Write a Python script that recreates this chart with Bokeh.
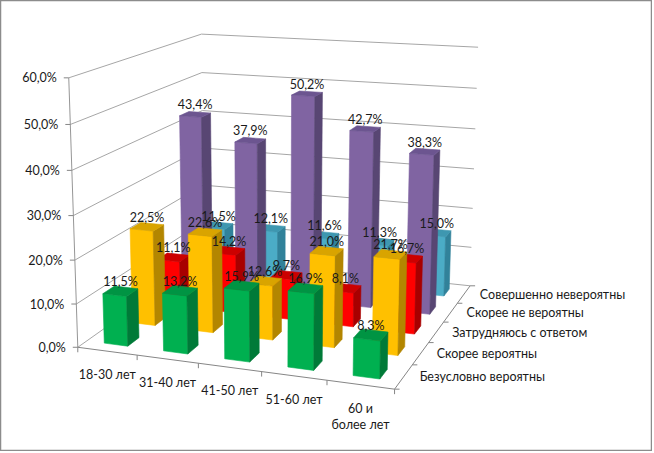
import numpy as np
from bokeh.plotting import figure
from bokeh.models import Range1d
from bokeh.core.properties import value
from bokeh.embed import file_html
from bokeh.resources import INLINE

# ---------------- data ----------------
categories = ["18-30 лет", "31-40 лет", "41-50 лет", "51-60 лет", "60 и\nболее лет"]
# series from front row to back row
series_names = ["Безусловно вероятны", "Скорее вероятны", "Затрудняюсь с ответом",
                "Скорее не вероятны", "Совершенно невероятны"]
bezuslovno_veroyatny = [11.5, 13.2, 15.9, 16.9, 8.3]
skoree_veroyatny = [22.5, 22.6, 12.6, 21.0, 21.7]
zatrudnyayus = [11.1, 14.2, 9.7, 8.1, 16.7]
skoree_ne_veroyatny = [43.4, 37.9, 50.2, 42.7, 38.3]
sovershenno_neveroyatny = [11.5, 12.1, 11.6, 11.3, 15.0]
y_ticks = [0, 10, 20, 30, 40, 50, 60]
y_tick_labels = ["0,0%", "10,0%", "20,0%", "30,0%", "40,0%", "50,0%", "60,0%"]

series_values = [bezuslovno_veroyatny, skoree_veroyatny, zatrudnyayus,
                 skoree_ne_veroyatny, sovershenno_neveroyatny]

# (front, side, top) colours per series
series_colors = [
    ("#00B050", "#007A38", "#009443"),
    ("#FFC000", "#B38600", "#D9A400"),
    ("#FF0000", "#A80000", "#CC0000"),
    ("#8064A2", "#584673", "#6C5590"),
    ("#4BACC6", "#31829A", "#3E97B0"),
]

# ---------------- projection (perspective camera fitted to frame corners) ----------------
CALIB = [
    (0, 0, 0, 78, 346), (0, 10, 0, 76, 303), (0, 20, 0, 74, 260), (0, 30, 0, 72, 215),
    (0, 40, 0, 71, 170), (0, 50, 0, 70, 124), (0, 60, 0, 69, 77),
    (1, 0, 0, 137, 355), (2, 0, 0, 198, 363), (3, 0, 0, 260, 372), (4, 0, 0, 327, 380),
    (5, 0, 0, 394, 388),
    (5, 0, 5, 470, 286), (5, 10, 5, 471, 246), (5, 20, 5, 472, 207), (5, 30, 5, 473, 168),
    (5, 40, 5, 475, 129), (5, 50, 5, 476, 88), (5, 60, 5, 478, 47),
    (0, 60, 5, 201, 33), (0, 50, 5, 201, 72), (0, 40, 5, 202, 111),
]


def fit_camera(pts):
    rows = []
    for X, Y, Z, u, v in pts:
        W = [X, Y / 10.0, Z, 1.0]
        un, vn = (u - 300) / 100.0, (v - 200) / 100.0
        rows.append(W + [0, 0, 0, 0] + [-un * w for w in W])
        rows.append([0, 0, 0, 0] + W + [-vn * w for w in W])
    _, _, vt = np.linalg.svd(np.array(rows, dtype=float))
    return vt[-1].reshape(3, 4)


P = fit_camera(CALIB)


def proj(X, Y, Z):
    h = P @ np.array([X, Y / 10.0, Z, 1.0])
    return h[0] / h[2] * 100 + 300, h[1] / h[2] * 100 + 200


NCAT = len(categories)
NSER = len(series_names)
YMAX = y_ticks[-1]

W_PX, H_PX = 652, 451
p = figure(width=W_PX, height=H_PX, output_backend="svg", toolbar_location=None,
           x_range=Range1d(0, W_PX), y_range=Range1d(H_PX, 0), min_border=0)
p.axis.visible = False
p.grid.visible = False
p.outline_line_color = "#8C8C8C"
p.outline_line_width = 1.5
p.background_fill_color = "white"
p.border_fill_color = "white"

FONT = value("Lato")
FS = "12.5px"

# ---------------- walls: gridlines ----------------
gx, gy = [], []
for t in y_ticks:
    a = proj(0, t, 0)
    b = proj(0, t, NSER)
    c = proj(NCAT, t, NSER)
    gx.append([a[0], b[0], c[0]])
    gy.append([a[1], b[1], c[1]])
p.multi_line(gx, gy, line_color="#A6A6A6", line_width=1)

# value axis (front-left vertical)
a = proj(0, 0, 0)
b = proj(0, YMAX, 0)
p.line([a[0], b[0]], [a[1], b[1]], line_color="#969696", line_width=1)
# category axis and depth axis
c0 = proj(0, 0, 0)
c1 = proj(NCAT, 0, 0)
d1 = proj(NCAT, 0, NSER)
p.line([c0[0], c1[0], d1[0]], [c0[1], c1[1], d1[1]], line_color="#868686", line_width=1)

# tick marks
tx0, ty0, tx1, ty1 = [], [], [], []
for t in y_ticks:
    u, v = proj(0, t, 0)
    tx0.append(u - 5); ty0.append(v); tx1.append(u); ty1.append(v)
for c in range(NCAT + 1):
    u, v = proj(c, 0, 0)
    tx0.append(u); ty0.append(v); tx1.append(u); ty1.append(v + 5)
for s in range(NSER + 1):
    u, v = proj(NCAT, 0, s)
    tx0.append(u); ty0.append(v); tx1.append(u + 5); ty1.append(v)
p.segment(tx0, ty0, tx1, ty1, line_color="#868686", line_width=1)

# ---------------- bars ----------------
GAP = 0.3  # bar occupies 0.4 of each cell (gap width / depth 150%)
xs, ys, cols = [], [], []
lab_x, lab_y, lab_t = [], [], []
for s in reversed(range(NSER)):
    front, side, top = series_colors[s]
    for c in range(NCAT):
        val = series_values[s][c]
        x0, x1 = c + GAP, c + 1 - GAP
        z0, z1 = s + GAP, s + 1 - GAP
        faces = [
            ([(x0, 0, z0), (x1, 0, z0), (x1, val, z0), (x0, val, z0)], front),
            ([(x1, 0, z0), (x1, 0, z1), (x1, val, z1), (x1, val, z0)], side),
            ([(x0, val, z0), (x1, val, z0), (x1, val, z1), (x0, val, z1)], top),
        ]
        for pts, col in faces:
            pp = [proj(*q) for q in pts]
            xs.append([q[0] for q in pp])
            ys.append([q[1] for q in pp])
            cols.append(col)
        u, v = proj(c + 0.5, val, s + 0.5)
        lab_x.append(u)
        lab_y.append(v - 2)
        lab_t.append(f"{val:.1f}".replace(".", ",") + "%")

p.patches(xs, ys, fill_color=cols, line_color=cols, line_width=0.6)

p.text(lab_x, lab_y, text=lab_t, text_align="center", text_baseline="bottom",
       text_font=FONT, text_font_size=FS, text_color="#1A1A1A")

# ---------------- axis labels ----------------
vx, vy = [], []
for t in y_ticks:
    u, v = proj(0, t, 0)
    vx.append(u - 12); vy.append(v)
p.text(vx, vy, text=y_tick_labels, text_align="right", text_baseline="middle",
       text_font=FONT, text_font_size=FS, text_color="#1A1A1A")

cx, cy = [], []
for c in range(NCAT):
    u, v = proj(c + 0.5, 0, 0)
    cx.append(u); cy.append(v + 16)
p.text(cx, cy, text=categories, text_align="center", text_baseline="top",
       text_font=FONT, text_font_size=FS, text_color="#1A1A1A", text_line_height=1.1)

sx, sy = [], []
for s in range(NSER):
    u, v = proj(NCAT, 0, s + 0.5)
    sx.append(u + 16); sy.append(v)
p.text(sx, sy, text=series_names, text_align="left", text_baseline="middle",
       text_font=FONT, text_font_size=FS, text_color="#1A1A1A")

open("out.html", "w").write(file_html(p, INLINE))
